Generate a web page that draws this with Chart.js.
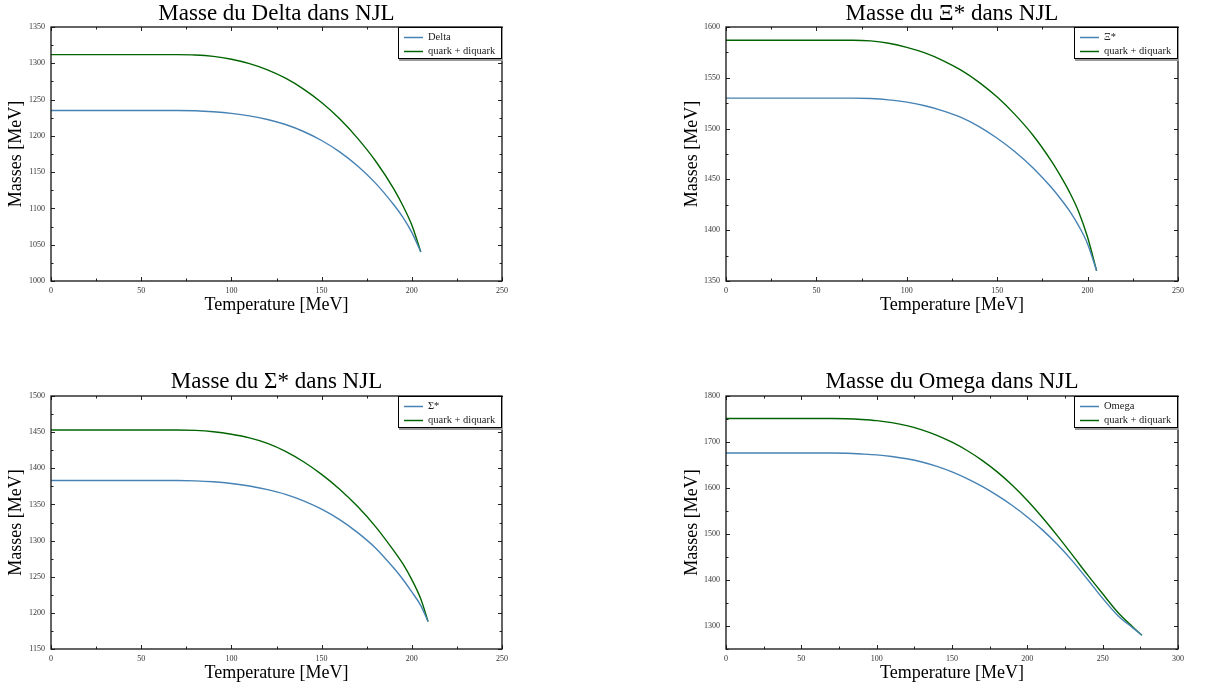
<!DOCTYPE html>
<html>
<head>
<meta charset="utf-8">
<script src="https://cdn.jsdelivr.net/npm/chart.js@4.4.1/dist/chart.umd.min.js"></script>
<style>
  html, body { margin: 0; padding: 0; background: #fff; }
  body { width: 1218px; height: 690px; position: relative; overflow: hidden; }
  canvas { position: absolute; }
</style>
</head>
<body>
<canvas id="c1" width="609" height="320" style="left:0px;top:0px"></canvas>
<canvas id="c2" width="609" height="320" style="left:609px;top:0px"></canvas>
<canvas id="c3" width="609" height="345" style="left:0px;top:345px"></canvas>
<canvas id="c4" width="609" height="345" style="left:609px;top:345px"></canvas>
<script>
// ---------------- DATA ----------------
// Panel 1 : Delta
const tDelta  = [0, 20, 40, 60, 70, 80, 90, 100, 110, 120, 130, 140, 150, 160, 170, 180, 190, 195, 200, 205];
const delta   = [1235, 1235, 1235, 1235, 1235, 1234.6, 1233.2, 1231, 1227.6, 1222.6, 1215.6, 1206, 1193.6, 1178, 1158.5, 1134.5, 1105, 1088, 1067, 1040];
const deltaQD = [1312, 1312, 1312, 1312, 1312, 1311.5, 1309.5, 1305.5, 1299.5, 1291, 1279.5, 1264.5, 1246, 1223.5, 1196.5, 1165, 1127, 1104, 1077, 1040];

// Panel 2 : Xi*
const tXi    = [0, 20, 40, 60, 70, 80, 90, 100, 110, 120, 130, 140, 150, 160, 170, 180, 185, 190, 195, 200, 205];
const xi     = [1530, 1530, 1530, 1530, 1530, 1529.6, 1528.3, 1526, 1522.5, 1517.5, 1511, 1502, 1490.5, 1477, 1461, 1442, 1431, 1419, 1404.5, 1386.5, 1360];
const xiQD   = [1587, 1587, 1587, 1587, 1587, 1586.3, 1584, 1580, 1574.5, 1567, 1557.5, 1545.5, 1531, 1513.5, 1493, 1468, 1453.5, 1437.5, 1418.5, 1393, 1360];

// Panel 3 : Sigma*
const tSigma  = [0, 20, 40, 60, 70, 80, 90, 100, 110, 120, 130, 140, 150, 160, 170, 180, 190, 195, 200, 205, 209];
const sigma   = [1383, 1383, 1383, 1383, 1383, 1382.6, 1381.3, 1379, 1375.5, 1370.5, 1364, 1355, 1343.5, 1329, 1311, 1289.5, 1262, 1246.5, 1229, 1210, 1188];
const sigmaQD = [1453, 1453, 1453, 1453, 1453, 1452.4, 1450.5, 1447, 1442, 1434.5, 1423.5, 1409, 1391.5, 1371, 1347, 1319, 1286, 1268, 1246, 1219, 1188];

// Panel 4 : Omega
const tOmega  = [0, 20, 40, 60, 70, 80, 90, 100, 110, 120, 130, 140, 150, 160, 170, 180, 190, 200, 210, 220, 230, 240, 250, 260, 270, 276];
const omega   = [1676, 1676, 1676, 1676, 1676, 1675.5, 1674, 1672, 1668.5, 1663.5, 1656.5, 1647, 1635, 1620.5, 1603.5, 1584, 1562, 1537, 1509, 1477, 1441, 1401, 1360, 1323, 1296, 1280];
const omegaQD = [1751, 1751, 1751, 1751, 1751, 1750.5, 1749, 1746.5, 1742, 1735.5, 1726.5, 1714.5, 1699.5, 1681.5, 1660, 1635, 1606, 1573, 1536, 1496, 1454, 1411, 1370, 1330, 1298, 1280];

// Tick labels
const xTicks250 = [0, 50, 100, 150, 200, 250];
const xTicks300 = [0, 50, 100, 150, 200, 250, 300];
const yTicksDelta = [1000, 1050, 1100, 1150, 1200, 1250, 1300, 1350];
const yTicksXi    = [1350, 1400, 1450, 1500, 1550, 1600];
const yTicksSigma = [1150, 1200, 1250, 1300, 1350, 1400, 1450, 1500];
const yTicksOmega = [1300, 1400, 1500, 1600, 1700, 1800];

const seriesLabel2 = 'quark + diquark';
const BLUE = '#4682b4';
const GREEN = '#006400';
const SERIF = "'Liberation Serif', 'DejaVu Serif', 'Times New Roman', serif";

// -------------- PLUGINS --------------
const framePlugin = {
  id: 'frame',
  afterDraw(chart) {
    const o = chart.options.plugins.frame;
    const { ctx, chartArea: a, scales: { x, y } } = chart;
    ctx.save();
    ctx.strokeStyle = '#222';
    ctx.lineWidth = 1;
    const tick = (x1, y1, x2, y2) => { ctx.beginPath(); ctx.moveTo(x1, y1); ctx.lineTo(x2, y2); ctx.stroke(); };
    for (let v = x.min; v <= x.max + 1e-9; v += o.xMinor) {
      const px = Math.round(x.getPixelForValue(v)) + 0.5;
      const len = (o.xMajor.includes(v)) ? 4 : 2.5;
      tick(px, a.bottom, px, a.bottom - len);
      tick(px, a.top, px, a.top + len);
    }
    for (let v = y.min; v <= y.max + 1e-9; v += o.yMinor) {
      const py = Math.round(y.getPixelForValue(v)) + 0.5;
      const len = (o.yMajor.includes(v)) ? 4 : 2.5;
      tick(a.left, py, a.left + len, py);
      tick(a.right, py, a.right - len, py);
    }
    ctx.lineWidth = 1.3;
    ctx.strokeStyle = '#111';
    ctx.strokeRect(a.left, a.top, a.right - a.left, a.bottom - a.top);
    ctx.restore();
  }
};

const boxLegendPlugin = {
  id: 'boxLegend',
  afterDraw(chart) {
    const { ctx, chartArea: a } = chart;
    const w = 104, h = 32;
    const bx = a.right - w, by = a.top;
    ctx.save();
    ctx.fillStyle = '#999';
    ctx.fillRect(bx + 1, by + 1, w, h + 1);
    ctx.fillStyle = '#fff';
    ctx.fillRect(bx, by, w, h);
    ctx.strokeStyle = '#000';
    ctx.lineWidth = 1;
    ctx.strokeRect(bx + 0.5, by + 0.5, w - 1, h - 1);
    ctx.font = '10.5px ' + SERIF;
    ctx.textBaseline = 'middle';
    ctx.textAlign = 'left';
    chart.data.datasets.forEach((ds, i) => {
      const cy = by + 10 + i * 14;
      ctx.strokeStyle = ds.borderColor;
      ctx.lineWidth = 1.5;
      ctx.beginPath(); ctx.moveTo(bx + 6, cy + 0.5); ctx.lineTo(bx + 25, cy + 0.5); ctx.stroke();
      ctx.fillStyle = '#222';
      ctx.fillText(ds.label, bx + 30, cy);
    });
    ctx.restore();
  }
};

const centerTitlePlugin = {
  id: 'centerTitle',
  afterDraw(chart) {
    const o = chart.options.plugins.centerTitle;
    const { ctx, chartArea: a } = chart;
    ctx.save();
    ctx.font = '23px ' + SERIF;
    ctx.fillStyle = '#000';
    ctx.textAlign = 'center';
    ctx.textBaseline = 'alphabetic';
    ctx.fillText(o.text, (a.left + a.right) / 2, o.baseline);
    ctx.restore();
  }
};

function makePanel(id, o) {
  const mk = (arr) => o.t.map((t, i) => ({ x: t, y: arr[i] }));
  new Chart(document.getElementById(id), {
    type: 'line',
    data: {
      datasets: [
        { label: o.label1, data: mk(o.m1), borderColor: BLUE, borderWidth: 1.4, pointRadius: 0, cubicInterpolationMode: 'monotone', fill: false },
        { label: seriesLabel2, data: mk(o.m2), borderColor: GREEN, borderWidth: 1.4, pointRadius: 0, cubicInterpolationMode: 'monotone', fill: false }
      ]
    },
    options: {
      responsive: false,
      animation: false,
      events: [],
      layout: { padding: { top: o.padTop, right: o.padRight, bottom: 0, left: 0 } },
      plugins: {
        legend: { display: false },
        tooltip: { enabled: false },
        title: { display: false },
        centerTitle: { text: o.title, baseline: o.titleBaseline },
        frame: { xMinor: 25, xMajor: o.xTicks, yMinor: o.yMinor, yMajor: o.yTicks }
      },
      scales: {
        x: {
          type: 'linear', min: 0, max: o.xTicks[o.xTicks.length - 1],
          afterBuildTicks: (s) => { s.ticks = o.xTicks.map(v => ({ value: v })); },
          afterFit: (s) => { s.height = o.xH; },
          grid: { display: false, drawTicks: false },
          border: { display: false },
          ticks: { font: { family: SERIF, size: 8 }, color: '#333', padding: 5, maxRotation: 0, autoSkip: false, callback: (v) => String(v) },
          title: { display: true, text: 'Temperature [MeV]', color: '#000', font: { family: SERIF, size: 18, lineHeight: 1.2 }, padding: { top: 0, bottom: o.xTitleBottom } }
        },
        y: {
          type: 'linear', min: o.yMin, max: o.yMax,
          afterBuildTicks: (s) => { s.ticks = o.yTicks.map(v => ({ value: v })); },
          afterFit: (s) => { s.width = o.yW; },
          grid: { display: false, drawTicks: false },
          border: { display: false },
          ticks: { font: { family: SERIF, size: 8 }, color: '#333', padding: 6, autoSkip: false, callback: (v) => String(v) },
          title: { display: true, text: 'Masses [MeV]', color: '#000', font: { family: SERIF, size: 18, lineHeight: 1.2 }, padding: { top: o.yTitleTop, bottom: 0 } }
        }
      }
    },
    plugins: [framePlugin, boxLegendPlugin, centerTitlePlugin]
  });
}

makePanel('c1', { t: tDelta, m1: delta, m2: deltaQD, label1: 'Delta', title: 'Masse du Delta dans NJL',
  xTicks: xTicks250, yTicks: yTicksDelta, yMin: 1000, yMax: 1350, yMinor: 25,
  yW: 51, padRight: 107, padTop: 27, titleBaseline: 20, xH: 39, xTitleBottom: 3.7, yTitleTop: 5.7 });
makePanel('c2', { t: tXi, m1: xi, m2: xiQD, label1: 'Ξ*', title: 'Masse du Ξ* dans NJL',
  xTicks: xTicks250, yTicks: yTicksXi, yMin: 1350, yMax: 1600, yMinor: 25,
  yW: 117, padRight: 40, padTop: 27, titleBaseline: 20, xH: 39, xTitleBottom: 3.7, yTitleTop: 72 });
makePanel('c3', { t: tSigma, m1: sigma, m2: sigmaQD, label1: 'Σ*', title: 'Masse du Σ* dans NJL',
  xTicks: xTicks250, yTicks: yTicksSigma, yMin: 1150, yMax: 1500, yMinor: 25,
  yW: 51, padRight: 107, padTop: 51, titleBaseline: 43, xH: 41, xTitleBottom: 5.7, yTitleTop: 5.7 });
makePanel('c4', { t: tOmega, m1: omega, m2: omegaQD, label1: 'Omega', title: 'Masse du Omega dans NJL',
  xTicks: xTicks300, yTicks: yTicksOmega, yMin: 1250, yMax: 1800, yMinor: 50,
  yW: 117, padRight: 40, padTop: 51, titleBaseline: 43, xH: 41, xTitleBottom: 5.7, yTitleTop: 72 });
</script>
</body>
</html>
